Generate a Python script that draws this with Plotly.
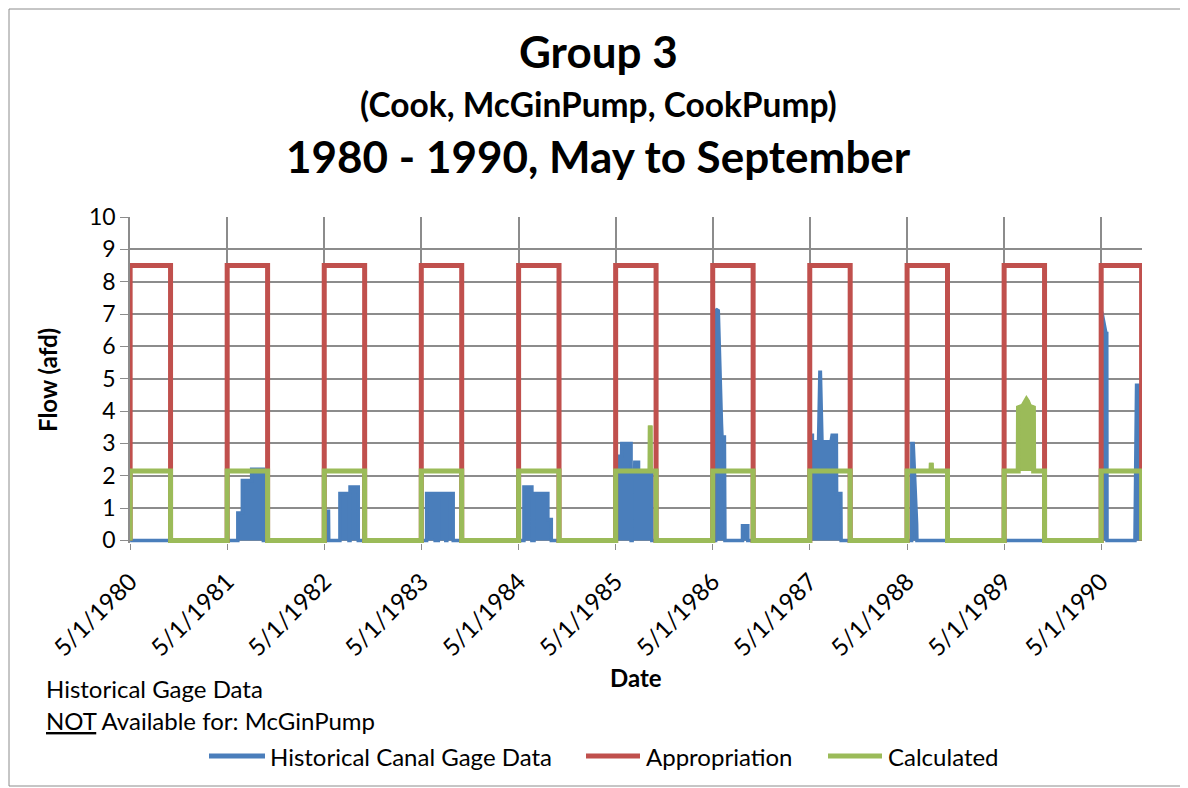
import plotly.graph_objects as go
from datetime import date, timedelta

# ---------------- data ----------------
years = list(range(1980, 1991))
tick_text = [f"5/1/{y}" for y in years]
season_days = 152            # May 1 .. Sep 30 (days after May 1)
appropriation_afd = 8.5
calculated_base_afd = 2.15

# Historical canal gage data: breakpoints (year, days after May 1, afd)
hist_year = ([1980] * 2 + [1981] * 10 + [1982] * 14 + [1983] * 14 + [1984] * 12
             + [1985] * 15 + [1986] * 13 + [1987] * 15 + [1988] * 7 + [1989] * 2 + [1990] * 9)
hist_day = [0, 152,
            0, 40, 40, 57, 57, 92, 92, 136, 136, 152,
            0, 9, 10, 16, 17, 59, 59, 93, 93, 97, 97, 128, 128, 152,
            0, 20, 20, 52, 52, 64, 64, 92, 92, 96, 96, 120, 120, 152,
            0, 20, 20, 50, 50, 58, 58, 110, 110, 123, 123, 152,
            0, 0, 22, 23, 58, 58, 62, 62, 71, 72, 86, 86, 136, 136, 152,
            0, 11, 12, 21, 33, 35, 44, 46, 112, 112, 132, 132, 152,
            0, 0, 10, 10, 33, 38, 40, 46, 80, 84, 100, 101, 117, 118, 152,
            0, 17, 18, 23, 36, 37, 152,
            0, 152,
            0, 0, 4, 18, 21, 22, 127, 133, 152]
hist_value = [0, 0,
              0, 0, 0.85, 0.85, 1.85, 1.85, 2.2, 2.2, 0, 0,
              0, 0, 0.9, 0.9, 0, 0, 1.45, 1.45, 0, 0, 1.65, 1.65, 0, 0,
              0, 0, 1.45, 1.45, 0, 0, 1.45, 1.45, 0, 0, 1.45, 1.45, 0, 0,
              0, 0, 1.65, 1.65, 0, 0, 1.45, 1.45, 0.65, 0.65, 0, 0,
              0, 2.6, 2.6, 3.0, 3.0, 0, 0, 2.05, 2.05, 2.42, 2.42, 2.05, 2.05, 0, 0,
              0, 0, 7.15, 7.1, 3.6, 3.2, 3.2, 0, 0, 0.45, 0.45, 0, 0,
              0, 3.25, 3.25, 3.05, 3.05, 5.2, 5.2, 3.05, 3.05, 3.25, 3.25, 1.45, 1.45, 0, 0,
              0, 0, 3.0, 3.0, 0.5, 0, 0,
              0, 0,
              0, 7.1, 7.0, 6.4, 6.4, 0, 0, 4.8, 4.8]

# Calculated series: departures above the base value (year, day, afd)
calc_burst_year = [1985] * 3 + [1988] * 3 + [1989] * 9
calc_burst_day = [129, 130, 131,
                  90, 91, 92,
                  53, 54, 70, 80, 84, 88, 95, 110, 111]
calc_burst_value = [2.15, 3.55, 2.15,
                    2.15, 2.4, 2.15,
                    2.15, 4.1, 4.15, 4.25, 4.35, 4.3, 4.15, 4.1, 2.15]

# ---------------- build series ----------------
def d(y, day):
    return date(y, 5, 1) + timedelta(days=day)

hx = [d(y, k) for y, k in zip(hist_year, hist_day)]
hy = list(hist_value)

ax, ay, cx, cy = [], [], [], []
for y in years:
    ax += [d(y, 0), d(y, 0), d(y, season_days), d(y, season_days)]
    ay += [0, appropriation_afd, appropriation_afd, 0]
    bursts = [(k, v) for yy, k, v in zip(calc_burst_year, calc_burst_day, calc_burst_value) if yy == y]
    cx += [d(y, 0), d(y, 0)] + [d(y, k) for k, _ in bursts] + [d(y, season_days), d(y, season_days)]
    cy += [0, calculated_base_afd] + [v for _, v in bursts] + [calculated_base_afd, 0]

bx, by = [], []
prev = None
for yy, k, v in zip(calc_burst_year, calc_burst_day, calc_burst_value):
    if prev is not None and yy != prev:
        bx.append(None); by.append(None)
    bx.append(d(yy, k)); by.append(v)
    prev = yy

BLUE, RED, GREEN = "#4A7EBB", "#C0504D", "#9BBB59"
FONT = "Lato"

fig = go.Figure()
fig.add_trace(go.Scatter(x=hx, y=hy, mode="lines", fill="tozeroy", fillcolor=BLUE,
                         line=dict(color=BLUE, width=3.5), showlegend=False))
fig.add_trace(go.Scatter(x=ax, y=ay, mode="lines", line=dict(color=RED, width=5), showlegend=False))
fig.add_trace(go.Scatter(x=bx, y=by, mode="lines", fill="toself", fillcolor=GREEN,
                         line=dict(color=GREEN, width=4), showlegend=False))
fig.add_trace(go.Scatter(x=cx, y=cy, mode="lines", line=dict(color=GREEN, width=5), showlegend=False))

# ---------------- layout (screen coordinates; page body adds an 8px offset) ----------------
OFF = 8
W, H = 1188 - OFF, 788 - OFF
L, R, T, B = 130 - OFF, 1142 - OFF, 217 - OFF, 543 - OFF
def px(x):
    return (x - OFF - L) / (R - L)
def py(y):
    return (B - (y - OFF)) / (B - T)

GRID = "#8C8C8C"
fig.update_layout(
    width=W, height=H,
    margin=dict(l=L, r=W - R, t=T, b=H - B),
    plot_bgcolor="white", paper_bgcolor="white",
    font=dict(family=FONT, color="black", size=24),
    showlegend=False,
)
fig.update_xaxes(
    type="date", range=["1980-04-30 12:00", "1990-10-01 12:00"],
    tickmode="array", tickvals=[d(y, 0) for y in years], ticktext=tick_text,
    tickangle=-45, tickfont=dict(size=24), ticks="outside", ticklen=6, tickcolor=GRID,
    ticklabelstandoff=8,
    showgrid=True, gridcolor=GRID, gridwidth=1.5, zeroline=False, showline=False,
)
fig.update_yaxes(
    range=[-0.08, 10], tickmode="array", tickvals=list(range(0, 11)),
    tickfont=dict(size=23), ticks="outside", ticklen=8, tickcolor=GRID,
    showgrid=True, gridcolor=GRID, gridwidth=1.5, zeroline=False,
    showline=True, linecolor=GRID, linewidth=1.5,
)

ann = []
def text(x, y, s, size=24, bold=False, xanchor="center", angle=0):
    ann.append(dict(x=px(x), y=py(y), xref="paper", yref="paper", text=(f"<b>{s}</b>" if bold else s),
                    showarrow=False, xanchor=xanchor, yanchor="middle", textangle=angle,
                    font=dict(family=FONT, size=size, color="black")))

text(598, 51, "Group 3", 44, True)
text(598, 104, "(Cook, McGinPump, CookPump)", 33.5, True)
text(598, 156, "1980 - 1990, May to September", 44, True)
text(636, 677, "Date", 24, True)
text(47, 380, "Flow (afd)", 24, True, angle=-90)
text(44, 688, "Historical Gage Data", 24, False, "left")
text(44, 720, "<u>NOT</u> Available for: McGinPump", 24, False, "left")

legend_items = [("Historical Canal Gage Data", BLUE, 209, 265, 268),
                ("Appropriation", RED, 586, 640, 644),
                ("Calculated", GREEN, 828, 882, 886)]
shapes = []
for name, col, x0, x1, tx in legend_items:
    shapes.append(dict(type="line", xref="paper", yref="paper", x0=px(x0), x1=px(x1), y0=py(756), y1=py(756),
                       line=dict(color=col, width=5)))
    text(tx, 756, name, 24, False, "left")

shapes.append(dict(type="rect", xref="paper", yref="paper", x0=px(OFF + 1), x1=px(1186), y0=py(OFF + 1), y1=py(786),
                   line=dict(color="#8C8C8C", width=1)))
fig.update_layout(annotations=ann, shapes=shapes)

fig.write_html("out.html")
